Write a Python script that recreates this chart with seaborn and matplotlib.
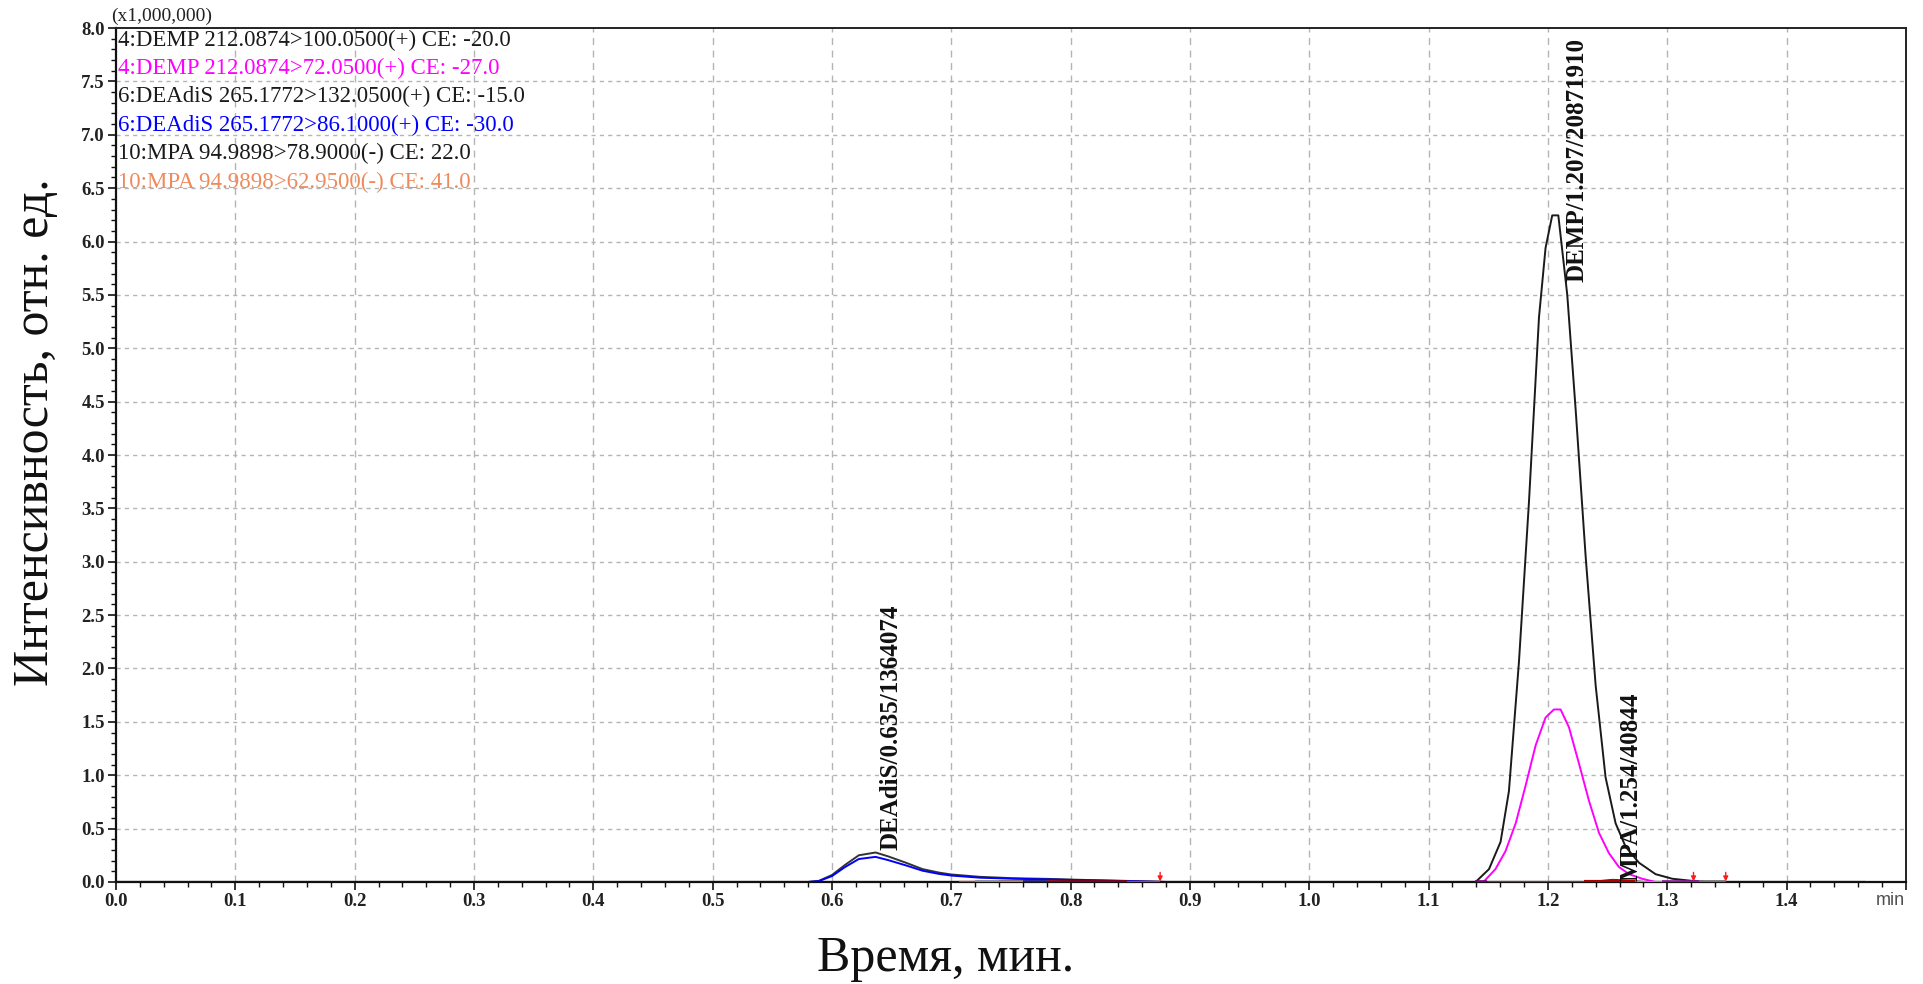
import numpy as np
import pandas as pd
import matplotlib
matplotlib.use("Agg")
import matplotlib.pyplot as plt
from matplotlib.ticker import MultipleLocator, FixedLocator
import seaborn as sns

# ---- chromatogram traces (time in min, intensity x1,000,000) ----
t_deadis_132 = [0.0, 0.580, 0.589, 0.600, 0.611, 0.6225, 0.6365, 0.647, 0.662, 0.676,
                0.690, 0.700, 0.724, 0.752, 0.780, 0.808, 0.847, 0.880, 1.466]
i_deadis_132 = [0.0, 0.0, 0.01, 0.065, 0.16, 0.25, 0.276, 0.24, 0.18, 0.12,
                0.087, 0.07, 0.048, 0.035, 0.029, 0.02, 0.01, 0.0, 0.0]

t_deadis_86 = [0.0, 0.580, 0.589, 0.600, 0.611, 0.6225, 0.6365, 0.647, 0.662, 0.676,
               0.690, 0.700, 0.724, 0.752, 0.780, 0.808, 0.847, 0.880, 1.466]
i_deadis_86 = [0.0, 0.0, 0.008, 0.055, 0.14, 0.215, 0.235, 0.205, 0.155, 0.105,
               0.075, 0.06, 0.04, 0.03, 0.024, 0.017, 0.008, 0.0, 0.0]

t_demp_100 = [0.0, 1.1394, 1.1506, 1.1603, 1.1673, 1.1757, 1.1841, 1.1925, 1.198, 1.2036,
              1.2087, 1.2162, 1.2232, 1.2316, 1.2400, 1.2483, 1.2567, 1.2651, 1.2763,
              1.2902, 1.3042, 1.3210, 1.3320, 1.466]
i_demp_100 = [0.0, 0.0, 0.12, 0.375, 0.85, 2.06, 3.56, 5.29, 5.94, 6.245,
              6.245, 5.50, 4.43, 3.05, 1.84, 0.98, 0.55, 0.33, 0.18,
              0.073, 0.03, 0.01, 0.0, 0.0]

t_demp_72 = [0.0, 1.146, 1.156, 1.1645, 1.173, 1.181, 1.1897, 1.198, 1.205, 1.2106,
             1.2176, 1.226, 1.2344, 1.2428, 1.2511, 1.2595, 1.268, 1.279, 1.290, 1.466]
i_demp_72 = [0.0, 0.0, 0.12, 0.29, 0.55, 0.89, 1.28, 1.54, 1.616, 1.616,
             1.45, 1.11, 0.76, 0.46, 0.27, 0.14, 0.073, 0.03, 0.0, 0.0]

t_mpa_789 = [0.0, 1.235, 1.250, 1.254, 1.262, 1.280, 1.466]
i_mpa_789 = [0.0, 0.0, 0.015, 0.02, 0.015, 0.0, 0.0]

t_mpa_6295 = [0.0, 1.235, 1.250, 1.254, 1.262, 1.280, 1.466]
i_mpa_6295 = [0.0, 0.0, 0.008, 0.012, 0.008, 0.0, 0.0]

channel_names = [
    "4:DEMP 212.0874>100.0500(+) CE: -20.0",
    "4:DEMP 212.0874>72.0500(+) CE: -27.0",
    "6:DEAdiS 265.1772>132.0500(+) CE: -15.0",
    "6:DEAdiS 265.1772>86.1000(+) CE: -30.0",
    "10:MPA 94.9898>78.9000(-) CE: 22.0",
    "10:MPA 94.9898>62.9500(-) CE: 41.0",
]
channel_colors = ["#1a1a1a", "#ff00ff", "#1a1a1a", "#0000ff", "#1a1a1a", "#ef8a5c"]

# peak annotations: name / retention time / area
peak_labels = ["DEAdiS/0.635/1364074", "DEMP/1.207/20871910", "MPA/1.254/40844"]
peak_label_x = [0.6496, 1.2240, 1.2700]
peak_label_y = [0.30, 5.62, 0.01]

# integration baselines (start, end, colour, width)
base_start = [0.7067, 0.740, 0.720, 0.760, 1.139, 1.149, 1.230, 1.273, 1.296, 1.327]
base_end   = [0.875, 0.847, 0.780, 0.780, 1.149, 1.273, 1.273, 1.323, 1.327, 1.349]
base_color = ["#ff2020", "#8b0000", "#8a8a8a", "#1a1a9a", "#800080", "#e01010",
              "#b00000", "#ff7070", "#8a1a9a", "#707070"]
base_width = [1.6, 2.6, 2.6, 2.6, 2.6, 2.2, 3.0, 2.2, 2.6, 2.6]
arrow_x = [0.875, 1.322, 1.349]

x_ticks = [round(0.1 * k, 1) for k in range(16)]
x_tick_labels = [f"{v:.1f}" for v in x_ticks[:-1]] + [""]
y_ticks = [round(0.5 * k, 1) for k in range(17)]
y_tick_labels = [f"{v:.1f}" for v in y_ticks]

sns.set_theme(style="white")
plt.rcParams["font.family"] = ["Liberation Serif", "DejaVu Serif"]

fig = plt.figure(figsize=(19.24, 9.84), dpi=100)
ax = fig.add_axes([0.0603, 0.1037, 0.9303, 0.8678])

# grid
for xv in x_ticks[1:-1]:
    ax.axvline(xv, color="#b4b4b4", lw=1.0, ls=(0, (5, 4)), zorder=0)
for yv in y_ticks[1:-1]:
    ax.axhline(yv, color="#b4b4b4", lw=1.0, ls=(0, (3, 3)), zorder=0)

traces = [
    (t_demp_100, i_demp_100, channel_colors[0]),
    (t_demp_72, i_demp_72, channel_colors[1]),
    (t_deadis_132, i_deadis_132, "#333333"),
    (t_deadis_86, i_deadis_86, channel_colors[3]),
    (t_mpa_789, i_mpa_789, channel_colors[4]),
    (t_mpa_6295, i_mpa_6295, channel_colors[5]),
]
for tt, ii, col in traces:
    df = pd.DataFrame({"t": tt, "i": ii})
    sns.lineplot(data=df, x="t", y="i", color=col, lw=1.4, ax=ax,
                 estimator=None, sort=False, zorder=3)

# baseline under the traces along the time axis
ax.plot([0.0, 1.466], [0.0, 0.0], color="#111111", lw=2.2, zorder=3.5)

for a, b, c, w in zip(base_start, base_end, base_color, base_width):
    ax.plot([a, b], [0.0, 0.0], color=c, lw=w, solid_capstyle="butt", zorder=4)

for xa in arrow_x:
    ax.annotate("", xy=(xa, 0.005), xytext=(xa, 0.09),
                arrowprops=dict(arrowstyle="-|>", color="#ff1a1a", lw=1.0,
                                mutation_scale=7, shrinkA=0, shrinkB=0),
                zorder=5)

for txt, px, py in zip(peak_labels, peak_label_x, peak_label_y):
    ax.text(px, py, txt, rotation=90, ha="center", va="bottom",
            fontsize=18, fontweight="bold", color="#111111", zorder=6)

# channel list in the upper left corner
for k, (name, col) in enumerate(zip(channel_names, channel_colors)):
    ax.text(0.001, 0.986 - k * 0.0333, name, transform=ax.transAxes,
            ha="left", va="center", fontsize=16.5, color=col, zorder=6)

ax.set_xlim(0.0, 1.5)
ax.set_ylim(0.0, 8.0)
ax.xaxis.set_major_locator(FixedLocator(x_ticks))
ax.set_xticklabels(x_tick_labels)
ax.yaxis.set_major_locator(FixedLocator(y_ticks))
ax.set_yticklabels(y_tick_labels)
ax.xaxis.set_minor_locator(MultipleLocator(0.02))
ax.yaxis.set_minor_locator(MultipleLocator(0.1))
ax.tick_params(axis="both", which="major", direction="out", length=6, width=1.2,
               color="#111111", labelsize=13.5, pad=2, bottom=True, left=True)
ax.tick_params(axis="both", which="minor", direction="out", length=3.5, width=1.0,
               color="#111111", bottom=True, left=True)
for lab in ax.get_xticklabels() + ax.get_yticklabels():
    lab.set_fontweight("bold")
    lab.set_color("#222222")

ax.set_xlabel("")
ax.set_ylabel("")
for side in ["left", "bottom"]:
    ax.spines[side].set_color("#111111")
    ax.spines[side].set_linewidth(1.6)
for side in ["top", "right"]:
    ax.spines[side].set_color("#222222")
    ax.spines[side].set_linewidth(1.4)

ax.text(1.499, -0.012, "min", transform=ax.get_xaxis_transform(), ha="right",
        va="top", fontsize=13, color="#505050", family=["Liberation Sans", "DejaVu Sans"])
ax.text(-0.003, 1.003, "(x1,000,000)", transform=ax.transAxes, ha="left",
        va="bottom", fontsize=14, color="#222222")

fig.text(36 / 1924, 1 - 432 / 984, "Интенсивность, отн. ед.", rotation=90,
         ha="center", va="center", fontsize=36, color="#111111")
fig.text(946 / 1924, 1 - 971 / 984, "Время, мин.", ha="center", va="baseline",
         fontsize=36, color="#111111")

fig.savefig("out.png", dpi=100, facecolor="white")
